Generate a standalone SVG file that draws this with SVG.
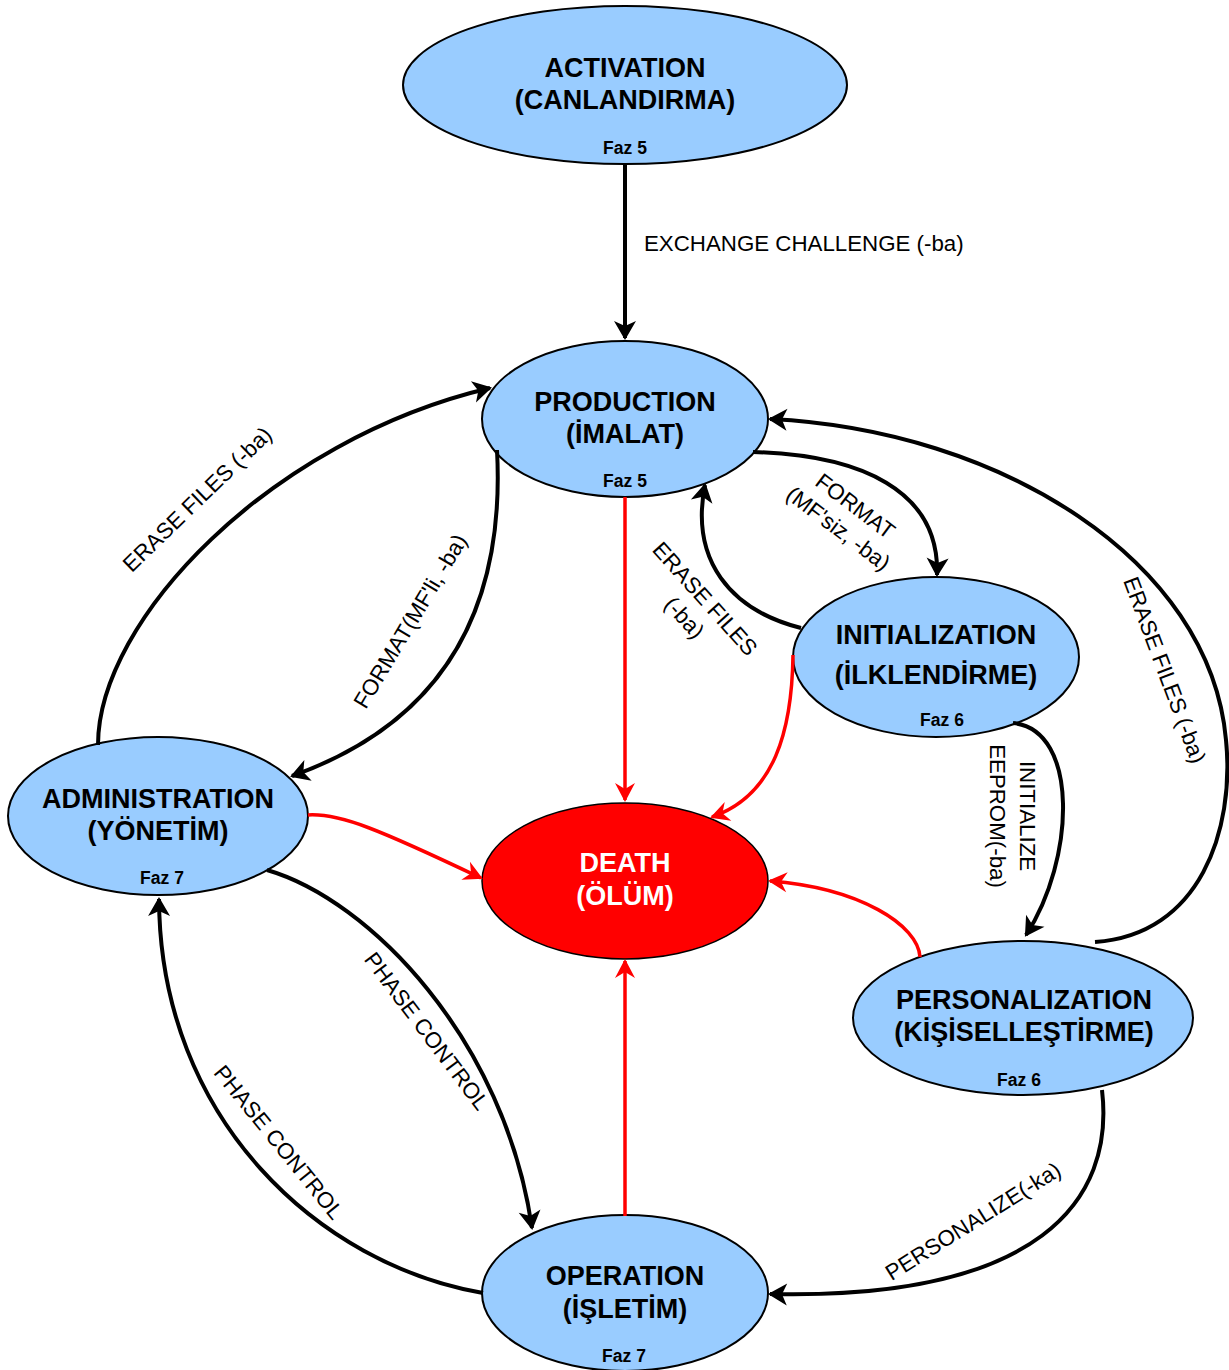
<svg xmlns="http://www.w3.org/2000/svg" width="1229" height="1370" viewBox="0 0 1229 1370">
<defs>
<style>
.node{fill:#99CCFF;stroke:#000;stroke-width:2}
.death{fill:#FF0000;stroke:#000;stroke-width:1.5}
.t{font-family:"Liberation Sans",Arial,sans-serif;font-weight:bold;font-size:27px;text-anchor:middle;fill:#000}
.tw{fill:#fff}
.faz{font-family:"Liberation Sans",Arial,sans-serif;font-weight:bold;font-size:17.5px;text-anchor:middle;fill:#000}
.lbl{font-family:"Liberation Sans",Arial,sans-serif;font-size:22.3px;text-anchor:middle;fill:#000}
.c{fill:none;stroke:#000;stroke-width:4}
.r{fill:none;stroke:#FF0000;stroke-width:3.5}
</style>
<marker id="ab" viewBox="-20 -12 24 24" refX="0" refY="0" markerWidth="24" markerHeight="24" markerUnits="userSpaceOnUse" orient="auto">
<path d="M2,0 L-17,-11 L-12,0 L-17,11 Z" fill="#000"/>
</marker>
<marker id="ar" viewBox="-20 -12 24 24" refX="0" refY="0" markerWidth="24" markerHeight="24" markerUnits="userSpaceOnUse" orient="auto">
<path d="M2,0 L-17,-10 L-11,0 L-17,10 Z" fill="#FF0000"/>
</marker>
</defs>
<rect width="1229" height="1370" fill="#fff"/>

<g id="activation">
<ellipse class="node" cx="625" cy="85" rx="222" ry="79"/>
<text class="t" x="625" y="77">ACTIVATION</text>
<text class="t" x="625" y="109">(CANLANDIRMA)</text>
<text class="faz" x="625" y="154">Faz 5</text>
</g>
<g id="production">
<ellipse class="node" cx="625" cy="419" rx="143" ry="78"/>
<text class="t" x="625" y="411">PRODUCTION</text>
<text class="t" x="625" y="443">(İMALAT)</text>
<text class="faz" x="625" y="487">Faz 5</text>
</g>
<g id="initialization">
<ellipse class="node" cx="936" cy="657" rx="143" ry="80"/>
<text class="t" x="936" y="644">INITIALIZATION</text>
<text class="t" x="936" y="684">(İLKLENDİRME)</text>
<text class="faz" x="942" y="726">Faz 6</text>
</g>
<g id="administration">
<ellipse class="node" cx="158" cy="816" rx="150" ry="79"/>
<text class="t" x="158" y="808">ADMINISTRATION</text>
<text class="t" x="158" y="840">(YÖNETİM)</text>
<text class="faz" x="162" y="884">Faz 7</text>
</g>
<g id="death">
<ellipse class="death" cx="625" cy="881" rx="143" ry="78"/>
<text class="t tw" x="625" y="872">DEATH</text>
<text class="t tw" x="625" y="905">(ÖLÜM)</text>
</g>
<g id="personalization">
<ellipse class="node" cx="1023" cy="1018" rx="170" ry="77"/>
<text class="t" x="1024" y="1009">PERSONALIZATION</text>
<text class="t" x="1024" y="1041">(KİŞİSELLEŞTİRME)</text>
<text class="faz" x="1019" y="1086">Faz 6</text>
</g>
<g id="operation">
<ellipse class="node" cx="625" cy="1293" rx="143" ry="78"/>
<text class="t" x="625" y="1285">OPERATION</text>
<text class="t" x="625" y="1318">(İŞLETİM)</text>
<text class="faz" x="624" y="1362">Faz 7</text>
</g>

<g id="connectors">
<path class="c" d="M625,164 L625,338" marker-end="url(#ab)"/>
<path class="c" d="M98,745 C98,620 270,440 490,388" marker-end="url(#ab)"/>
<path class="c" d="M497,450 C505,600 450,720 292,776" marker-end="url(#ab)"/>
<path class="c" d="M753,452 C860,455 940,490 937,575" marker-end="url(#ab)"/>
<path class="c" d="M801,628 C730,610 690,560 705,485" marker-end="url(#ab)"/>
<path class="c" d="M1095,942 C1200,935 1235,830 1226,740 C1210,560 1000,430 770,419" marker-end="url(#ab)"/>
<path class="c" d="M1013,723 C1080,730 1075,860 1026,935" marker-end="url(#ab)"/>
<path class="c" d="M1102,1090 C1115,1200 1040,1300 770,1294" marker-end="url(#ab)"/>
<path class="c" d="M267,870 C370,900 505,1040 532,1228" marker-end="url(#ab)"/>
<path class="c" d="M483,1293 C320,1265 160,1120 159,899" marker-end="url(#ab)"/>
<path class="r" d="M625,497 L625,800" marker-end="url(#ar)"/>
<path class="r" d="M625,1216 L625,961" marker-end="url(#ar)"/>
<path class="r" d="M308,815 C340,813 380,830 481,878" marker-end="url(#ar)"/>
<path class="r" d="M793,655 C792,730 775,795 712,817" marker-end="url(#ar)"/>
<path class="r" d="M920,957 C918,925 860,888 770,881" marker-end="url(#ar)"/>

<text class="lbl" x="644" y="251" style="text-anchor:start">EXCHANGE CHALLENGE (-ba)</text>
<text class="lbl" transform="translate(197,499) rotate(-44)" y="8">ERASE FILES (-ba)</text>
<text class="lbl" transform="translate(410,621) rotate(-59)" y="8">FORMAT(MF'li, -ba)</text>
<g transform="translate(847,517) rotate(37)">
<text class="lbl" y="-6">FORMAT</text>
<text class="lbl" y="22">(MF'siz, -ba)</text>
</g>
<g transform="translate(695,608) rotate(48)">
<text class="lbl" y="-6">ERASE FILES</text>
<text class="lbl" y="22">(-ba)</text>
</g>
<text class="lbl" transform="translate(1165,670) rotate(69.5)" y="8">ERASE FILES (-ba)</text>
<g transform="translate(1013,816) rotate(90)">
<text class="lbl" y="-7">INITIALIZE</text>
<text class="lbl" y="23">EEPROM(-ba)</text>
</g>
<text class="lbl" transform="translate(427,1031) rotate(53)" y="8">PHASE CONTROL</text>
<text class="lbl" transform="translate(279,1142) rotate(51)" y="8">PHASE CONTROL</text>
<text class="lbl" transform="translate(973,1221) rotate(-32)" y="8">PERSONALIZE(-ka)</text>
</g>
</svg>
